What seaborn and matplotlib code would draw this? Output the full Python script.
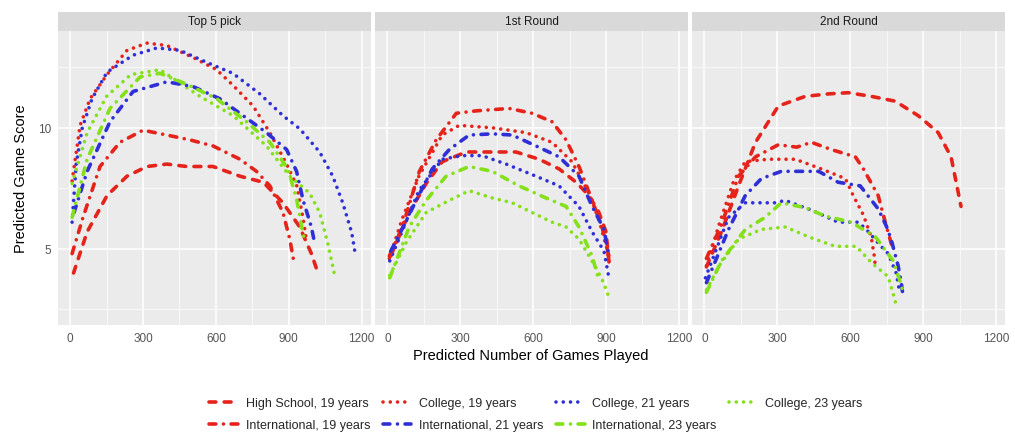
import matplotlib
matplotlib.use("Agg")
import matplotlib.pyplot as plt
from matplotlib.patches import Rectangle
from matplotlib.ticker import MultipleLocator
import pandas as pd
import seaborn as sns

PANELS = ["Top 5 pick", "1st Round", "2nd Round"]
GROUPS = ["High School, 19 years", "College, 19 years", "College, 21 years", "College, 23 years",
          "International, 19 years", "International, 21 years", "International, 23 years"]
COLORS = ["#E5231B", "#E5231B", "#2F2FD8", "#84E019", "#E5231B", "#2F2FD8", "#84E019"]
X_TICKS = [0, 300, 600, 900, 1200]
Y_TICKS = [5, 10]

# ---- Top 5 pick ----
top5_hs19_x = [14, 70, 152, 234, 316, 398, 480, 588, 699, 795, 876, 945, 993, 1020]
top5_hs19_y = [4.0, 5.7, 7.2, 8.0, 8.4, 8.5, 8.4, 8.4, 8.0, 7.75, 6.9, 5.9, 4.8, 4.0]
top5_c19_x = [8, 41, 82, 152, 234, 316, 398, 507, 603, 671, 753, 822, 891, 933, 958, 972]
top5_c19_y = [7.8, 10.1, 11.2, 12.2, 13.2, 13.5, 13.4, 12.9, 12.4, 11.75, 10.9, 9.8, 8.5, 7.6, 6.3, 5.4]
top5_c21_x = [8, 25, 50, 90, 152, 259, 357, 452, 563, 670, 781, 876, 945, 1027, 1081, 1122, 1159, 1175]
top5_c21_y = [6.1, 8.5, 10.0, 11.2, 12.3, 13.0, 13.3, 13.2, 12.7, 12.25, 11.4, 10.5, 9.96, 9.0, 8.0, 6.9, 5.67, 4.7]
top5_c23_x = [8, 70, 150, 250, 370, 534, 671, 808, 904, 986, 1027, 1060, 1089]
top5_c23_y = [7.7, 9.8, 11.3, 12.2, 12.4, 11.3, 10.5, 9.25, 8.0, 7.3, 6.5, 5.25, 3.9]
top5_i19_x = [8, 53, 123, 205, 300, 398, 493, 588, 699, 767, 822, 876, 904, 922]
top5_i19_y = [4.8, 6.3, 8.4, 9.4, 9.9, 9.7, 9.5, 9.25, 8.7, 8.2, 7.6, 6.5, 5.4, 4.4]
top5_i21_x = [16, 70, 164, 259, 398, 507, 616, 712, 808, 891, 932, 959, 993, 1007]
top5_i21_y = [6.5, 8.2, 10.25, 11.5, 11.9, 11.7, 11.2, 10.5, 9.8, 9.1, 8.2, 7.0, 5.9, 5.2]
top5_i23_x = [8, 70, 164, 288, 370, 480, 603, 726, 822, 896, 932, 953, 966]
top5_i23_y = [6.3, 8.7, 10.8, 12.1, 12.25, 11.8, 11.2, 10.25, 9.4, 8.3, 7.07, 5.9, 5.3]

# ---- 1st Round ----
r1_hs19_x = [14, 90, 160, 226, 325, 419, 530, 625, 707, 777, 830, 871, 900, 912]
r1_hs19_y = [4.7, 6.5, 7.7, 8.6, 9.0, 9.0, 9.0, 8.7, 8.3, 7.75, 7.2, 6.5, 5.7, 4.5]
r1_c19_x = [8, 60, 130, 226, 296, 432, 571, 678, 760, 830, 871, 904, 915]
r1_c19_y = [4.6, 6.2, 8.0, 9.7, 10.1, 10.0, 9.8, 9.4, 8.6, 7.3, 6.2, 5.0, 4.3]
r1_c21_x = [10, 60, 130, 226, 308, 390, 489, 612, 707, 789, 843, 892, 912]
r1_c21_y = [4.5, 5.7, 7.4, 8.7, 8.85, 8.85, 8.5, 8.0, 7.6, 6.75, 5.7, 4.9, 3.8]
r1_c23_x = [10, 80, 160, 255, 337, 432, 514, 596, 678, 736, 789, 860, 890, 912]
r1_c23_y = [3.9, 5.3, 6.5, 7.0, 7.4, 7.1, 6.9, 6.5, 6.1, 5.9, 5.4, 4.2, 3.6, 3.0]
r1_i19_x = [8, 62, 132, 201, 284, 366, 501, 596, 678, 736, 789, 843, 884, 912]
r1_i19_y = [4.7, 5.9, 8.2, 9.5, 10.6, 10.7, 10.8, 10.6, 10.25, 9.5, 8.4, 7.0, 5.9, 4.7]
r1_i21_x = [14, 60, 119, 185, 255, 337, 432, 514, 612, 707, 789, 843, 892, 912]
r1_i21_y = [4.9, 5.8, 7.0, 8.3, 9.1, 9.7, 9.75, 9.7, 9.25, 8.8, 8.0, 6.75, 5.8, 4.7]
r1_i23_x = [10, 90, 160, 242, 337, 432, 542, 653, 736, 789, 843, 865]
r1_i23_y = [3.8, 5.9, 7.0, 8.0, 8.4, 8.2, 7.6, 7.1, 6.75, 5.9, 4.7, 3.9]

# ---- 2nd Round ----
r2_hs19_x = [8, 70, 140, 210, 304, 415, 510, 592, 686, 785, 880, 962, 1015, 1056]
r2_hs19_y = [4.25, 5.7, 7.6, 9.4, 10.9, 11.3, 11.4, 11.45, 11.3, 11.1, 10.5, 9.8, 8.8, 6.75]
r2_c19_x = [8, 60, 120, 168, 263, 374, 481, 580, 612, 654, 686, 699, 703]
r2_c19_y = [4.3, 6.0, 7.8, 8.6, 8.7, 8.7, 8.3, 7.9, 7.2, 6.4, 5.5, 4.7, 4.3]
r2_c21_x = [4, 99, 168, 292, 332, 440, 550, 633, 666, 727, 756, 789, 800]
r2_c21_y = [3.8, 6.3, 6.9, 6.9, 7.0, 6.6, 6.1, 6.1, 5.8, 5.1, 4.8, 4.0, 3.4]
r2_c23_x = [8, 60, 140, 234, 332, 440, 538, 625, 662, 690, 756, 781, 792]
r2_c23_y = [3.3, 4.3, 5.4, 5.8, 5.9, 5.45, 5.1, 5.1, 4.7, 4.4, 3.85, 3.0, 2.55]
r2_i19_x = [8, 70, 140, 210, 304, 380, 440, 522, 621, 654, 715, 748, 775]
r2_i19_y = [4.6, 6.0, 8.0, 8.8, 9.3, 9.2, 9.4, 9.1, 8.8, 8.3, 7.2, 5.95, 5.0]
r2_i21_x = [8, 99, 168, 234, 316, 415, 470, 550, 641, 715, 748, 768, 797, 810, 818]
r2_i21_y = [3.6, 5.8, 7.2, 7.9, 8.2, 8.2, 8.2, 7.75, 7.6, 6.65, 5.95, 5.4, 4.3, 3.6, 3.0]
r2_i23_x = [8, 70, 168, 250, 316, 415, 497, 604, 703, 777, 810, 818]
r2_i23_y = [3.2, 4.5, 5.8, 6.3, 6.9, 6.7, 6.35, 6.1, 5.5, 4.5, 3.5, 3.2]

SERIES = {
    "Top 5 pick": [(top5_hs19_x, top5_hs19_y), (top5_c19_x, top5_c19_y), (top5_c21_x, top5_c21_y),
                   (top5_c23_x, top5_c23_y), (top5_i19_x, top5_i19_y), (top5_i21_x, top5_i21_y),
                   (top5_i23_x, top5_i23_y)],
    "1st Round": [(r1_hs19_x, r1_hs19_y), (r1_c19_x, r1_c19_y), (r1_c21_x, r1_c21_y),
                  (r1_c23_x, r1_c23_y), (r1_i19_x, r1_i19_y), (r1_i21_x, r1_i21_y),
                  (r1_i23_x, r1_i23_y)],
    "2nd Round": [(r2_hs19_x, r2_hs19_y), (r2_c19_x, r2_c19_y), (r2_c21_x, r2_c21_y),
                  (r2_c23_x, r2_c23_y), (r2_i19_x, r2_i19_y), (r2_i21_x, r2_i21_y),
                  (r2_i23_x, r2_i23_y)],
}

rows = []
for panel in PANELS:
    for g, (xs, ys) in zip(GROUPS, SERIES[panel]):
        for i, (xv, yv) in enumerate(zip(xs, ys)):
            rows.append({"panel": panel, "group": g, "order": i, "x": xv, "y": yv})
df = pd.DataFrame(rows)

DASH_HS = (1.9, 2.3)
DASH_C = (0.01, 2.0)
DASH_I = (1.9, 2.1, 0.01, 2.1)
DASHES = {g: (DASH_HS if g.startswith("High") else DASH_C if g.startswith("College") else DASH_I)
          for g in GROUPS}
PALETTE = dict(zip(GROUPS, COLORS))

sns.set_theme(style="white")
plt.rcParams["font.family"] = ["Liberation Sans", "DejaVu Sans"]

fig, axes = plt.subplots(1, 3, figsize=(10.15, 4.35), dpi=100, sharey=True)
fig.subplots_adjust(left=58 / 1015, right=1005 / 1015, top=1 - 32 / 435, bottom=1 - 326 / 435,
                    wspace=0.0144)

LW = 2.6
for i, (ax, panel) in enumerate(zip(axes, PANELS)):
    sub = df[df.panel == panel]
    sns.lineplot(data=sub, x="x", y="y", hue="group", style="group", hue_order=GROUPS,
                 style_order=GROUPS, palette=PALETTE, dashes=DASHES, sort=False,
                 estimator=None, linewidth=LW, ax=ax, legend=(i == 0))
    for ln in ax.lines:
        ln.set_dash_capstyle("round")
    ax.set_facecolor("#EBEBEB")
    ax.set_xlim(-50, 1237)
    ax.set_ylim(1.85, 14.0)
    ax.set_xticks(X_TICKS)
    ax.set_yticks(Y_TICKS)
    ax.xaxis.set_minor_locator(MultipleLocator(150))
    ax.yaxis.set_minor_locator(MultipleLocator(2.5))
    ax.grid(True, which="major", color="white", linewidth=1.1)
    ax.grid(True, which="minor", color="white", linewidth=0.5)
    ax.set_axisbelow(True)
    for s in ax.spines.values():
        s.set_visible(False)
    ax.tick_params(axis="both", which="major", length=3, width=0.8, color="#555555",
                   labelcolor="#555555", labelsize=8.5, pad=2)
    ax.tick_params(axis="both", which="minor", length=0)
    if i > 0:
        ax.tick_params(axis="y", left=False, labelleft=False)
    ax.set_xlabel("")
    ax.set_ylabel("")
    # strip
    ax.add_patch(Rectangle((0, 1.0), 1, 19 / 294, transform=ax.transAxes, facecolor="#D9D9D9",
                           edgecolor="none", clip_on=False))
    ax.text(0.5, 1.0 + 9.5 / 294, panel, transform=ax.transAxes, ha="center", va="center",
            fontsize=8.5, color="#1A1A1A")

axes[0].set_ylabel("Predicted Game Score", fontsize=10.5, labelpad=7, color="black")

handles, labels = axes[0].get_legend_handles_labels()
axes[0].get_legend().remove()
hmap = dict(zip(labels, handles))
for h in handles:
    h.set_dash_capstyle("round")
order = ["High School, 19 years", "International, 19 years", "College, 19 years",
         "International, 21 years", "College, 21 years", "International, 23 years",
         "College, 23 years"]
fig.legend([hmap[o] for o in order], order, ncol=4, loc="center",
           bbox_to_anchor=(0.528, 0.046), frameon=False, fontsize=9, handlelength=2.3,
           handletextpad=0.6, columnspacing=1.0, labelspacing=0.8)

fig.text(0.523, 1 - 356 / 435, "Predicted Number of Games Played", ha="center", va="center",
         fontsize=10.5, color="black")

fig.savefig("out.png", dpi=100, facecolor="white")
